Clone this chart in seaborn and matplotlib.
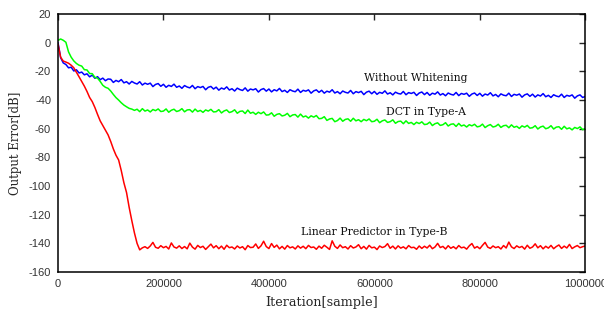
import numpy as np
import pandas as pd
import matplotlib
matplotlib.use("Agg")
import matplotlib.pyplot as plt
import seaborn as sns

# iteration axis: one point every 5000 samples
iterations = np.arange(0, 1000001, 5000)

without_whitening = [
    0.0, -10.5, -14.2, -15.3, -17.6, -17.2, -19.8, -19.0, -21.2, -20.6,
    -22.5, -21.8, -23.9, -22.7, -24.9, -23.8, -25.9, -24.8, -26.6, -25.4,
    -25.6, -27.8, -26.4, -27.3, -25.8, -28.1, -27.3, -28.9, -27.1, -28.2,
    -28.9, -27.3, -29.6, -28.3, -29.1, -28.3, -30.7, -29.2, -28.6, -30.5,
    -29.1, -31.2, -29.8, -30.6, -29.0, -31.2, -30.3, -31.9, -30.0, -31.0,
    -31.6, -29.9, -32.2, -30.7, -31.4, -30.6, -32.9, -31.2, -30.6, -32.4,
    -31.1, -33.2, -31.7, -32.5, -30.9, -33.1, -32.2, -33.8, -31.8, -32.8,
    -33.4, -31.6, -33.9, -32.4, -33.0, -32.2, -34.5, -32.8, -32.1, -33.9,
    -32.4, -34.4, -32.9, -33.7, -32.0, -34.2, -33.3, -34.8, -32.9, -33.8,
    -34.3, -32.5, -34.8, -33.3, -33.9, -33.0, -35.3, -33.7, -33.0, -34.7,
    -33.3, -35.3, -33.9, -34.6, -32.9, -35.2, -34.2, -35.7, -33.8, -34.7,
    -35.2, -33.4, -35.7, -34.2, -34.9, -34.0, -36.3, -34.6, -33.9, -35.7,
    -34.1, -36.1, -34.7, -35.4, -33.7, -35.9, -35.0, -36.5, -34.6, -35.5,
    -35.9, -34.1, -36.4, -34.9, -35.5, -34.7, -36.9, -35.2, -34.5, -36.3,
    -34.8, -36.8, -35.3, -36.0, -34.4, -36.6, -35.6, -37.1, -35.2, -36.1,
    -36.6, -34.8, -37.0, -35.5, -36.1, -35.3, -37.5, -35.9, -35.2, -36.9,
    -35.4, -37.4, -35.9, -36.6, -35.0, -37.2, -36.2, -37.8, -35.8, -36.7,
    -37.1, -35.3, -37.6, -36.1, -36.7, -35.9, -38.1, -36.5, -35.8, -37.5,
    -36.0, -38.0, -36.5, -37.3, -35.6, -37.8, -36.8, -38.3, -36.4, -37.3,
    -37.8, -36.0, -38.3, -36.8, -37.4, -36.5, -38.8, -37.2, -36.5, -38.3,
    -37.6,
]

dct_type_a = [
    1.5, 2.5, 1.6, 0.2, -6.5, -10.2, -12.8, -14.6, -15.8, -16.4,
    -18.9, -19.1, -21.6, -21.7, -24.3, -24.8, -27.1, -29.8, -31.2, -31.9,
    -33.8, -36.2, -38.4, -40.1, -42.0, -43.6, -44.8, -45.9, -46.4, -47.3,
    -46.5, -48.2, -46.1, -47.8, -47.0, -48.4, -46.7, -47.5, -46.3, -48.1,
    -47.8, -46.3, -48.6, -47.2, -46.5, -48.1, -47.5, -46.1, -48.3, -47.0,
    -46.8, -48.5, -46.4, -48.1, -47.3, -48.7, -47.0, -47.8, -46.6, -48.4,
    -48.2, -46.8, -49.1, -47.7, -47.0, -48.8, -48.2, -46.9, -49.3, -48.0,
    -47.7, -49.5, -47.1, -49.3, -48.6, -50.1, -48.6, -49.6, -48.4, -50.6,
    -50.4, -49.0, -51.4, -50.1, -49.6, -51.2, -50.7, -49.4, -51.7, -50.5,
    -50.2, -52.0, -49.9, -51.9, -51.2, -52.7, -51.1, -52.0, -50.9, -53.1,
    -52.9, -51.7, -54.3, -53.3, -52.9, -55.2, -54.4, -52.7, -54.9, -53.6,
    -53.2, -54.9, -52.8, -54.6, -53.8, -55.2, -53.6, -54.5, -53.3, -55.2,
    -54.9, -53.5, -55.9, -54.6, -54.0, -55.7, -55.2, -53.9, -56.3, -55.1,
    -54.8, -56.6, -54.6, -56.4, -55.7, -57.2, -55.6, -56.5, -55.3, -57.2,
    -56.9, -55.5, -57.9, -56.6, -56.0, -57.8, -57.3, -55.9, -58.2, -57.0,
    -56.7, -58.5, -56.4, -58.2, -57.5, -58.9, -57.3, -58.1, -57.0, -58.8,
    -58.4, -56.9, -59.3, -58.0, -57.2, -58.9, -58.4, -57.0, -59.2, -58.0,
    -57.7, -59.4, -57.4, -59.1, -58.4, -59.9, -58.1, -59.0, -57.8, -59.7,
    -59.4, -58.0, -60.3, -58.9, -58.3, -60.1, -59.5, -58.0, -60.3, -59.0,
    -58.7, -60.5, -58.4, -60.2, -59.5, -60.9, -59.2, -60.0, -58.8, -60.8,
    -60.0,
]

linear_predictor_type_b = [
    -1.0, -10.2, -12.9, -13.6, -14.4, -15.8, -17.6, -20.7, -23.9, -27.2,
    -30.4, -34.1, -38.3, -41.2, -45.3, -50.1, -54.6, -57.9, -61.2, -64.4,
    -69.0, -74.2, -78.6, -81.9, -89.3, -97.8, -104.6, -115.0, -124.2, -132.8,
    -140.1, -144.6,
    -143.2, -142.4, -143.6, -141.9, -139.4, -142.8, -143.5, -141.7,
    -143.1, -142.2, -144.0, -139.8, -142.6, -143.4, -141.8, -143.7, -142.3, -143.9,
    -139.9, -142.7, -144.1, -141.5, -143.0, -142.1, -144.3, -142.5, -140.6, -143.2,
    -141.7, -143.8, -142.0, -144.2, -141.4, -143.1, -142.6, -144.0, -141.9, -143.3,
    -142.4, -144.5, -141.6, -143.0, -142.8, -140.5, -143.6, -141.8, -138.6, -142.3,
    -143.7, -140.2, -142.9, -141.3, -143.9, -142.2, -144.1, -141.6, -143.2, -142.5,
    -144.0, -141.8, -143.4, -142.1, -143.8, -141.5, -143.0, -142.6, -144.2, -142.0,
    -143.5, -141.4, -142.8, -144.3, -138.3, -142.1, -143.6, -141.2, -143.1, -142.4,
    -144.0, -141.7, -143.3, -142.6, -141.0, -143.8, -142.2, -144.1, -141.5, -143.2,
    -142.7, -144.4, -141.9, -143.0, -142.3, -140.3, -143.5, -142.0, -144.0, -141.8,
    -143.4, -142.5, -143.9, -141.6, -143.1, -142.8, -144.2, -141.9, -143.6, -142.1,
    -143.3, -141.4, -143.8, -142.6, -140.1, -143.0, -142.2, -144.0, -141.7, -143.5,
    -142.4, -143.9, -141.6, -143.2, -142.7, -144.1, -141.8, -140.2, -143.4, -142.3,
    -143.8, -141.5, -139.4, -142.7, -143.6, -141.9, -143.1, -142.4, -144.0, -141.6,
    -143.3, -139.2, -142.5, -143.7, -141.8, -143.0, -142.2, -144.1, -141.4, -143.5,
    -142.6, -140.4, -143.2, -141.7, -143.9, -142.1, -143.4, -141.5, -143.8, -142.3,
    -141.2, -143.6, -142.0, -143.3, -140.8, -143.7, -142.5, -141.6, -143.1, -142.4,
    -141.9,
]

series_names = ["Without Whitening", "DCT in Type-A", "Linear Predictor in Type-B"]
series_colors = ["#0000ff", "#00ff00", "#ff0000"]
x_ticks = [0, 200000, 400000, 600000, 800000, 1000000]
y_ticks = list(range(-160, 21, 20))

df = pd.concat([
    pd.DataFrame({"iteration": iterations, "error": vals, "series": name})
    for name, vals in zip(series_names,
                          [without_whitening, dct_type_a, linear_predictor_type_b])
])

sns.set_style("white")
plt.rcParams["axes.unicode_minus"] = False
fig = plt.figure(figsize=(6.04, 3.09), dpi=100)
ax = fig.add_axes([0.096, 0.12, 0.873, 0.835])

sns.lineplot(data=df, x="iteration", y="error", hue="series",
             palette=dict(zip(series_names, series_colors)),
             estimator=None, linewidth=1.1, legend=False, ax=ax)

ax.set_xlim(0, 1000000)
ax.set_ylim(-160, 20)
ax.set_xticks(x_ticks)
ax.set_xticklabels([str(t) for t in x_ticks])
ax.set_yticks(y_ticks)
ax.set_yticklabels([str(t) for t in y_ticks])
ax.tick_params(direction="in", top=True, right=True, length=4, width=1,
               labelsize=8, labelcolor="#333333", pad=5)
for lab in ax.get_xticklabels() + ax.get_yticklabels():
    lab.set_fontfamily("Liberation Sans")
for sp in ax.spines.values():
    sp.set_color("black")
    sp.set_linewidth(1.1)

ax.set_xlabel("Iteration[sample]", family="DejaVu Serif", fontsize=9.2, labelpad=5)
ax.set_ylabel("Output Error[dB]", family="DejaVu Serif", fontsize=8.5, labelpad=5)

label_pos = [(678000, -24.6), (697000, -48.4), (600000, -132.0)]
for name, (lx, ly) in zip(series_names, label_pos):
    ax.text(lx, ly, name, family="DejaVu Serif", fontsize=7.8, ha="center",
            va="center", color="#111111")

fig.savefig("out.png", dpi=100)
